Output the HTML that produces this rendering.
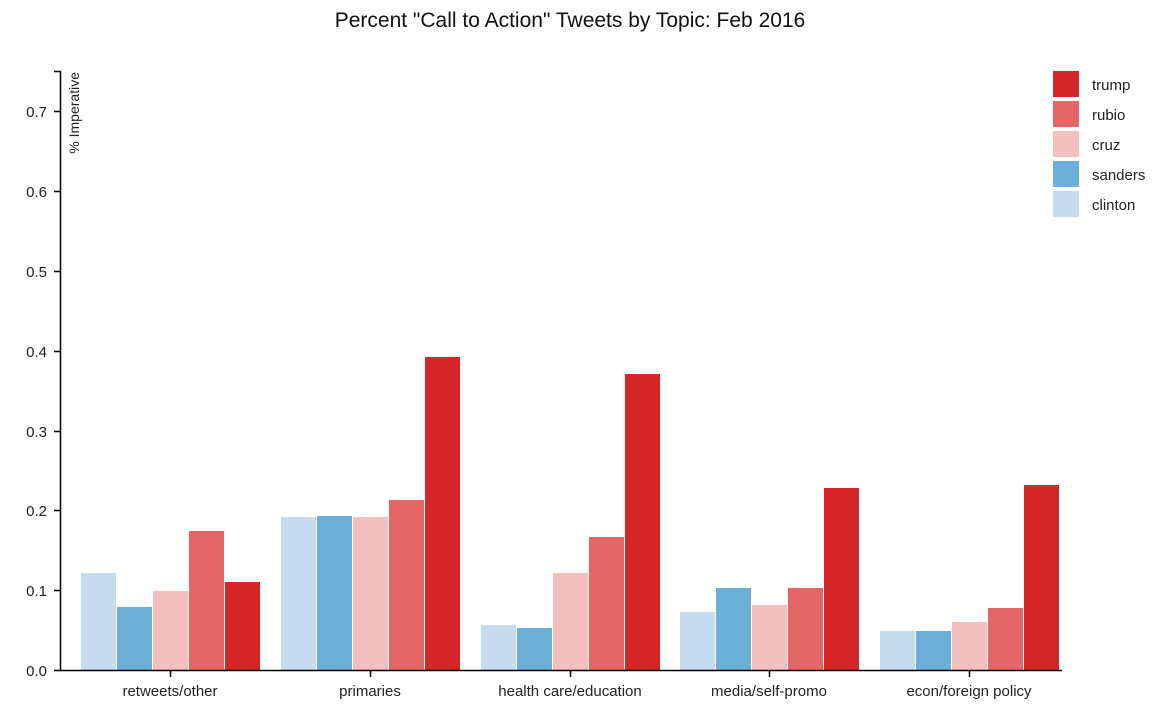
<!DOCTYPE html>
<html><head><meta charset="utf-8"><style>
html,body{margin:0;padding:0;background:#fff;}
svg{display:block;font-family:"Liberation Sans",sans-serif;}
</style></head><body>
<svg width="1164" height="720" viewBox="0 0 1164 720" xmlns="http://www.w3.org/2000/svg">
<text x="570" y="27" text-anchor="middle" font-size="21" fill="#111">Percent "Call to Action" Tweets by Topic: Feb 2016</text>
<g fill="#c6dbef">
<rect x="81" y="573" width="35" height="97"/><rect x="281" y="517" width="35" height="153"/><rect x="481" y="625" width="35" height="45"/><rect x="680" y="612" width="35" height="58"/><rect x="880" y="631" width="35" height="39"/>
</g>
<g fill="#6baed6">
<rect x="117" y="607" width="35" height="63"/><rect x="317" y="516" width="35" height="154"/><rect x="517" y="628" width="35" height="42"/><rect x="716" y="588" width="35" height="82"/><rect x="916" y="631" width="35" height="39"/>
</g>
<g fill="#f4bfbf">
<rect x="153" y="591" width="35" height="79"/><rect x="353" y="517" width="35" height="153"/><rect x="553" y="573" width="35" height="97"/><rect x="752" y="605" width="35" height="65"/><rect x="952" y="622" width="35" height="48"/>
</g>
<g fill="#e46666">
<rect x="189" y="531" width="35" height="139"/><rect x="389" y="500" width="35" height="170"/><rect x="589" y="537" width="35" height="133"/><rect x="788" y="588" width="35" height="82"/><rect x="988" y="608" width="35" height="62"/>
</g>
<g fill="#d62728">
<rect x="225" y="582" width="35" height="88"/><rect x="425" y="357" width="35" height="313"/><rect x="625" y="374" width="35" height="296"/><rect x="824" y="488" width="35" height="182"/><rect x="1024" y="485" width="35" height="185"/>
</g>
<g stroke="#000" stroke-width="1.5" fill="none">
<path d="M54,71.5H60.5V670.5H54"/>
<path d="M60,670.5H1062"/>
<path d="M54,111.5H60M54,191.5H60M54,271.5H60M54,351.5H60M54,431.5H60M54,510.5H60M54,590.5H60"/>
<path d="M170.5,670V677M370.5,670V677M570.5,670V677M769.5,670V677M969.5,670V677"/>
</g>
<g font-size="15" fill="#222" text-anchor="end">
<text x="47" y="676">0.0</text><text x="47" y="596">0.1</text><text x="47" y="516">0.2</text><text x="47" y="437">0.3</text><text x="47" y="357">0.4</text><text x="47" y="277">0.5</text><text x="47" y="197">0.6</text><text x="47" y="117">0.7</text>
</g>
<text transform="translate(79,72) rotate(-90)" text-anchor="end" font-size="14" fill="#222">% Imperative</text>
<g font-size="15" fill="#222" text-anchor="middle">
<text x="170" y="696">retweets/other</text><text x="370" y="696">primaries</text><text x="570" y="696">health care/education</text><text x="769" y="696">media/self-promo</text><text x="969" y="696">econ/foreign policy</text>
</g>
<rect x="1053" y="71" width="26" height="26" fill="#d62728"/>
<rect x="1053" y="101" width="26" height="26" fill="#e46666"/>
<rect x="1053" y="131" width="26" height="26" fill="#f4bfbf"/>
<rect x="1053" y="161" width="26" height="26" fill="#6baed6"/>
<rect x="1053" y="191" width="26" height="26" fill="#c6dbef"/>
<g font-size="15" fill="#222">
<text x="1092" y="90">trump</text><text x="1092" y="120">rubio</text><text x="1092" y="150">cruz</text><text x="1092" y="180">sanders</text><text x="1092" y="210">clinton</text>
</g>
</svg>
</body></html>
